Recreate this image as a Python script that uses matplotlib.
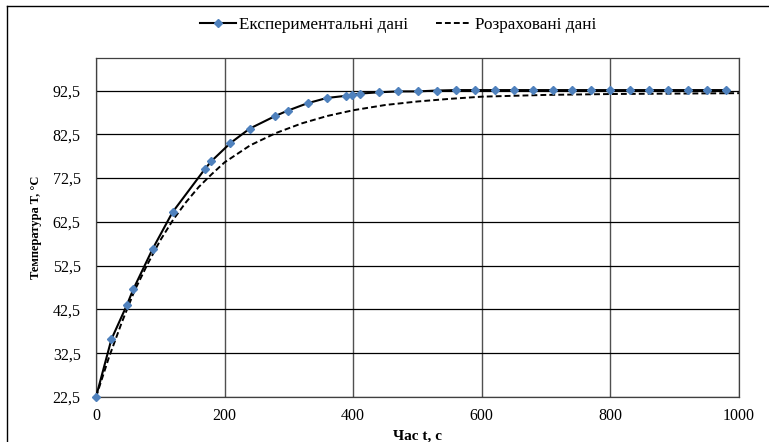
import matplotlib
matplotlib.use("Agg")
import matplotlib.pyplot as plt
from matplotlib.lines import Line2D
from matplotlib.ticker import FuncFormatter

plt.rcParams['font.family'] = ['Liberation Serif', 'DejaVu Serif']

# experimental points (time, s / temperature, °C)
exp_t = [0, 24, 48, 58, 88, 119, 169, 179, 209, 239, 279, 298, 329, 359, 389, 398,
         410, 440, 470, 500, 530, 560, 590, 620, 650, 680, 710, 740, 770, 800, 830,
         860, 890, 920, 950, 980]
exp_T = [22.5, 35.7, 43.5, 47.1, 56.3, 64.7, 74.5, 76.3, 80.5, 83.8, 86.7, 87.9, 89.6,
         90.8, 91.3, 91.5, 91.8, 92.1, 92.3, 92.3, 92.5, 92.6, 92.6, 92.6, 92.6, 92.6,
         92.6, 92.6, 92.6, 92.6, 92.6, 92.6, 92.6, 92.6, 92.6, 92.6]

# calculated curve
calc_t = [0, 20, 40, 60, 80, 100, 120, 140, 160, 180, 200, 240, 280, 320, 360, 400,
          450, 500, 550, 600, 700, 800, 900, 1000]
calc_T = [22.5, 31.5, 39.5, 46.8, 52.8, 58.3, 63.0, 67.0, 70.5, 73.4, 76.1, 80.0, 82.8,
          85.0, 86.7, 88.0, 89.2, 90.0, 90.6, 91.1, 91.5, 91.7, 91.8, 91.9]

y_ticks = [22.5, 32.5, 42.5, 52.5, 62.5, 72.5, 82.5, 92.5]
x_ticks = [0, 200, 400, 600, 800, 1000]

W, H = 769, 442
fig = plt.figure(figsize=(W / 100, H / 100), dpi=100)
ax = fig.add_axes([96 / W, 1 - 397 / H, (739 - 96) / W, (397 - 57.7) / H])

# chart frame (cut by the screenshot on the right and bottom)
fig.add_artist(Line2D([7.3 / W, 1.0], [1 - 5.7 / H, 1 - 5.7 / H], color='black', lw=1.0))
fig.add_artist(Line2D([7.3 / W, 7.3 / W], [0.0, 1 - 5.7 / H], color='black', lw=1.0))

exp_line, = ax.plot(exp_t, exp_T, color='black', lw=1.5, marker='D', markersize=4.2,
                    markerfacecolor='#4F81BD', markeredgecolor='#4F81BD', zorder=3,
                    clip_on=False)
calc_line, = ax.plot(calc_t, calc_T, color='black', lw=1.4, dashes=(3, 1.6), zorder=2)

ax.set_xlim(0, 1000)
ax.set_ylim(22.5, 100)
ax.set_xticks(x_ticks)
ax.set_yticks(y_ticks)
ax.yaxis.set_major_formatter(FuncFormatter(lambda v, p: f"{v:.1f}".replace('.', ',')))
ax.tick_params(length=0, labelsize=11.5)
ax.tick_params(axis='y', pad=11)
ax.tick_params(axis='x', pad=8)
ax.grid(axis='y', color='black', lw=0.9)
ax.grid(axis='x', color='#505050', lw=1.0)
ax.set_axisbelow(True)
for s in ax.spines.values():
    s.set_color('#404040')
    s.set_linewidth(0.9)

ax.set_xlabel("Час t, с", fontsize=11, fontweight='bold', labelpad=4)
ax.set_ylabel("Температура T, °C", fontsize=9, fontweight='bold', labelpad=8)

fig.legend([exp_line, calc_line], ["Експериментальні дані", "Розраховані дані"],
           loc='center', bbox_to_anchor=(398 / W, 1 - 25 / H), ncol=2, frameon=False,
           fontsize=12.3, handlelength=2.1, handletextpad=0.2, columnspacing=1.6)

fig.savefig("out.png", dpi=100)
